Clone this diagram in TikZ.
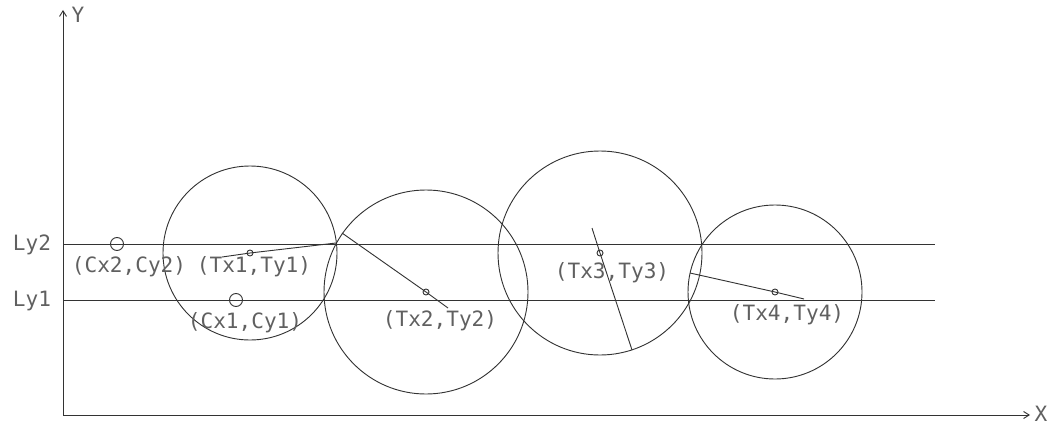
\documentclass[tikz,border=0pt]{standalone}
\usepackage{fontspec}
\newfontfamily\cadfont{DejaVu Sans Mono}
\usetikzlibrary{arrows.meta,positioning}
\definecolor{cadline}{HTML}{333333}
\definecolor{cadtext}{HTML}{606060}

\tikzset{
    cadlabel/.style={font=\cadfont\fontsize{15}{16}\selectfont, color=cadtext, inner sep=0pt},
    axis/.style={cadline, -{Straight Barb[length=4pt,width=5pt]}},
    guide/.style={cadline},
    marker/.style={cadline}
}

\begin{document}
\begin{tikzpicture}[x=0.025cm, y=-0.025cm, line width=0.65pt]
    \useasboundingbox (0,0) rectangle (1050,427);

    % Axes
    \coordinate (O) at (63,415);
    \coordinate (Ytip) at (63,10);
    \coordinate (Xtip) at (1030,415);
    \draw[axis] (O) -- (Ytip);
    \draw[axis] (O) -- (Xtip);
    \node[cadlabel] (ylab) at (78,15) {Y};
    \node[cadlabel] (xlab) at (1041,414) {X};

    % Horizontal lines Ly1 / Ly2
    \coordinate (L2a) at (63,244);
    \coordinate (L2b) at (935,244);
    \coordinate (L1a) at (63,300);
    \coordinate (L1b) at (935,300);
    \draw[guide] (L2a) -- (L2b);
    \draw[guide] (L1a) -- (L1b);
    \node[cadlabel] (ly2) at (32,245) {Ly2};
    \node[cadlabel] (ly1) at (32,301) {Ly1};

    % Target circles with their centre points
    \foreach \name/\cx/\cy/\rad in {T1/250/253/87, T2/426/292/102, T3/600/253/102, T4/775/292/87} {
        \coordinate (\name) at (\cx,\cy);
        \draw[cadline] (\name) circle (\rad);
        \draw[marker] (\name) circle (3);
    }

    % Radius lines (edge -> centre, slightly past)
    \coordinate (R1a) at (336,243);
    \coordinate (R1b) at (222,257);
    \coordinate (R2a) at (342,233);
    \coordinate (R2b) at (448,308);
    \coordinate (R3a) at (592,228);
    \coordinate (R3b) at (632,350);
    \coordinate (R4a) at (690,273);
    \coordinate (R4b) at (804,299);
    \draw[cadline] (R1a) -- (T1) -- (R1b);
    \draw[cadline] (R2a) -- (T2) -- (R2b);
    \draw[cadline] (R3a) -- (T3) -- (R3b);
    \draw[cadline] (R4a) -- (T4) -- (R4b);

    % Reference points C1 / C2
    \coordinate (C2) at (117,244);
    \coordinate (C1) at (236,300);
    \draw[marker] (C2) circle (6.5);
    \draw[marker] (C1) circle (6.5);

    % Point labels
    \node[cadlabel] (c2lab) at (129,267) {(Cx2,Cy2)};
    \node[cadlabel] (t1lab) at (254,267) {(Tx1,Ty1)};
    \node[cadlabel] (c1lab) at (245,323) {(Cx1,Cy1)};
    \node[cadlabel] (t2lab) at (440,321) {(Tx2,Ty2)};
    \node[cadlabel] (t3lab) at (612,273) {(Tx3,Ty3)};
    \node[cadlabel] (t4lab) at (787,315) {(Tx4,Ty4)};
\end{tikzpicture}
\end{document}
